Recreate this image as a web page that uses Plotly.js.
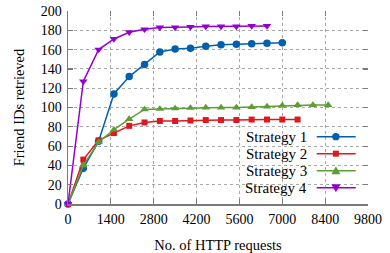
<!DOCTYPE html>
<html>
<head>
<meta charset="utf-8">
<script src="https://cdn.plot.ly/plotly-3.0.1.min.js"></script>
<style>html,body{margin:0;padding:0;background:#fff;}#chart{width:390px;height:253px;}</style>
</head>
<body>
<div id="chart"></div>
<script>
const seriesNames = ["Strategy 1", "Strategy 2", "Strategy 3", "Strategy 4"];
const requests1 = [0,500,1000,1500,2000,2500,3000,3500,4000,4500,5000,5500,6000,6500,7000];
const friends1  = [0,37,65,114,132,144.5,157.5,160.5,161.5,163.5,165,165.5,166,166.5,167];
const requests2 = [0,500,1000,1500,2000,2500,3000,3500,4000,4500,5000,5500,6000,6500,7000,7500];
const friends2  = [0,46,66,73.5,81,84.5,86,86,86.5,87,87,87,87.5,87.5,87.5,87.5];
const requests3 = [0,500,1000,1500,2000,2500,3000,3500,4000,4500,5000,5500,6000,6500,7000,7500,8000,8500];
const friends3  = [0,40,64,77,88,98,98.5,99,99.5,100,100,100,100.5,101,102,102.5,102.5,102.5];
const requests4 = [0,500,1000,1500,2000,2500,3000,3500,4000,4500,5000,5500,6000,6500];
const friends4  = [0,127,160,171,178,181,183,183,183.5,184,184,184,184.5,184.5];
const xTicks = [0,1400,2800,4200,5600,7000,8400,9800];
const yTicks = [0,20,40,60,80,100,120,140,160,180,200];

const colors = ["#0060ad", "#dd181f", "#5e9c36", "#9400d3"];
const symbols = ["circle", "square", "triangle-up", "triangle-down"];
const xs = [requests1, requests2, requests3, requests4];
const ys = [friends1, friends2, friends3, friends4];

const traces = xs.map((x, i) => ({
  type: "scatter", mode: "lines+markers", name: seriesNames[i],
  x: x, y: ys[i],
  line: {color: colors[i], width: 1.5},
  marker: {color: colors[i], symbol: symbols[i], size: i === 1 ? 6 : 7.5},
  showlegend: false, cliponaxis: false
}));
// invisible trace to anchor mirrored tick axes
traces.push({type:"scatter", x:[0], y:[0], xaxis:"x2", yaxis:"y2", mode:"markers", marker:{opacity:0}, showlegend:false, hoverinfo:"skip"});

const font = {family: "Liberation Serif, Times New Roman, serif", color: "#000"};
const axisCommon = {
  showline: true, linecolor: "#7a7a7a", linewidth: 1.5,
  ticks: "inside", ticklen: 5, tickwidth: 1.2, tickcolor: "#7a7a7a",
  showgrid: true, gridcolor: "#a8a8a8", griddash: "dot", gridwidth: 1,
  zeroline: false, tickfont: Object.assign({size: 14}, font)
};

// manual legend (text left of sample), paper coordinates
const plotH = 253 - 11 - 49;
const legTop = 0.349;
const rowGap = 17 / plotH;
const annotations = [];
const shapes = [];
const markerPaths = [
  null,
  null,
  "M0,4.5 L4.5,-3.5 L-4.5,-3.5 Z",
  "M0,-4.5 L4.5,3.5 L-4.5,3.5 Z"
];
seriesNames.forEach((nm, i) => {
  const yy = legTop - i * rowGap;
  annotations.push({xref:"paper", yref:"paper", x: 0.802, y: yy, xanchor:"right", yanchor:"middle",
    text: nm, showarrow:false, font: Object.assign({size: 15}, font)});
  shapes.push({type:"line", xref:"paper", yref:"paper", x0: 0.829, x1: 0.959, y0: yy, y1: yy,
    line:{color: colors[i], width: 1.5}});
  const cx = 0.893;
  if (i === 0) {
    shapes.push({type:"circle", xref:"paper", yref:"paper", xsizemode:"pixel", ysizemode:"pixel",
      xanchor: cx, yanchor: yy, x0:-3.7, x1:3.7, y0:-3.7, y1:3.7, fillcolor: colors[i], line:{width:0}});
  } else if (i === 1) {
    shapes.push({type:"rect", xref:"paper", yref:"paper", xsizemode:"pixel", ysizemode:"pixel",
      xanchor: cx, yanchor: yy, x0:-3, x1:3, y0:-3, y1:3, fillcolor: colors[i], line:{width:0}});
  } else {
    shapes.push({type:"path", xref:"paper", yref:"paper", xsizemode:"pixel", ysizemode:"pixel",
      xanchor: cx, yanchor: yy, path: markerPaths[i], fillcolor: colors[i], line:{width:0}});
  }
});

const layout = {
  width: 390, height: 253,
  margin: {l: 68, r: 22, t: 11, b: 49},
  paper_bgcolor: "#fff", plot_bgcolor: "#fff",
  showlegend: false,
  font: font,
  xaxis: Object.assign({}, axisCommon, {
    range: [0, 9800], tickvals: xTicks, ticktext: xTicks.map(String), ticklabelstandoff: 2,
    title: {text: "No. of HTTP requests", font: Object.assign({size: 14.5}, font), standoff: 13}
  }),
  yaxis: Object.assign({}, axisCommon, {
    range: [0, 200], tickvals: yTicks, ticktext: yTicks.map(String), ticklabelstandoff: 2,
    title: {text: "Friend IDs retrieved", font: Object.assign({size: 14.5}, font), standoff: 12}
  }),
  xaxis2: {overlaying: "x", side: "top", range: [0, 9800], tickvals: xTicks, showticklabels: false,
    ticks: "inside", ticklen: 5, tickwidth: 1.2, tickcolor: "#7a7a7a", showgrid: false, showline: false, zeroline: false},
  yaxis2: {overlaying: "y", side: "right", range: [0, 200], tickvals: yTicks, showticklabels: false,
    ticks: "inside", ticklen: 5, tickwidth: 1.2, tickcolor: "#7a7a7a", showgrid: false, showline: false, zeroline: false},
  annotations: annotations,
  shapes: shapes
};

Plotly.newPlot("chart", traces, layout, {staticPlot: true, displayModeBar: false});
</script>
</body>
</html>
